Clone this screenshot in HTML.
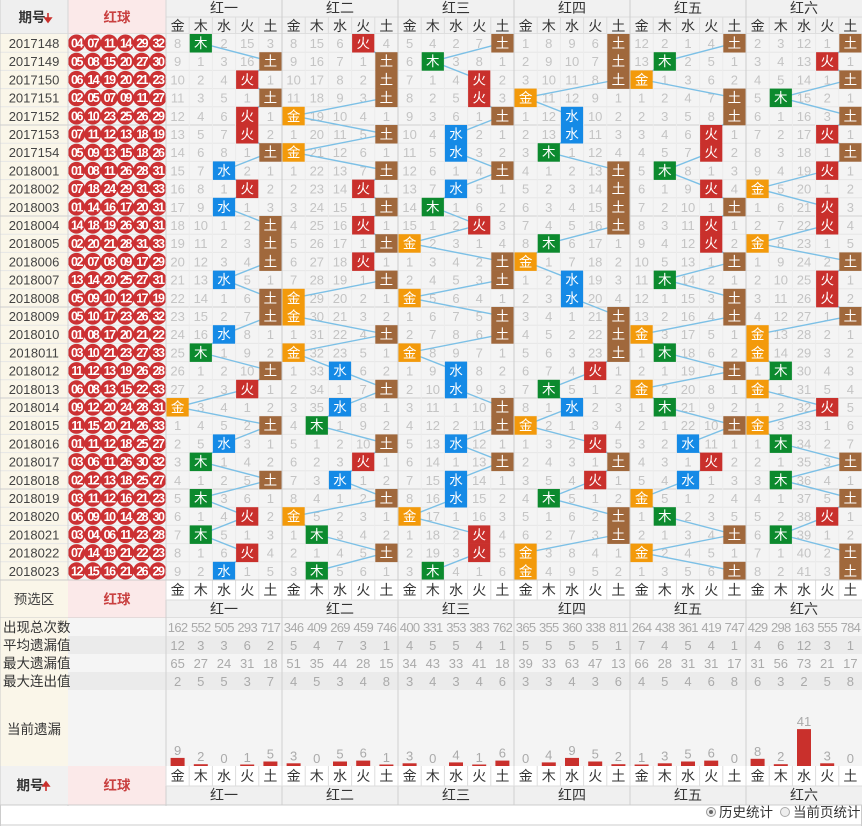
<!DOCTYPE html>
<html><head><meta charset="utf-8">
<style>
body{margin:0;padding:0;background:#fff;}
svg text{font-family:"Liberation Sans","Noto Sans CJK SC","WenQuanYi Zen Hei",sans-serif;}
</style></head>
<body>
<svg id="s" width="862" height="826" xmlns="http://www.w3.org/2000/svg" style="display:block"></svg>
<script>
const S=document.getElementById('s');
let h='';
const W5=['金','木','水','火','土'];
const COL={'金':'#f39a0b','木':'#0c8a2e','水':'#158ae6','火':'#c9302c','土':'#a0683c'};
const GN=['红一','红二','红三','红四','红五','红六'];
const periods=['2017148','2017149','2017150','2017151','2017152','2017153','2017154'];
for(let i=1;i<=23;i++)periods.push('2018'+String(i).padStart(3,'0'));
const balls=`04 07 11 14 29 32
05 08 15 20 27 30
06 14 19 20 21 23
02 05 07 09 11 27
06 10 23 25 26 29
07 11 12 13 18 19
05 09 13 15 18 26
01 08 11 26 28 31
07 18 24 29 31 33
01 14 16 17 20 31
14 18 19 26 30 31
02 20 21 28 31 33
02 07 08 09 17 29
13 14 20 25 27 31
05 09 10 12 17 19
05 10 17 23 26 32
01 08 17 20 21 22
03 10 21 23 27 33
11 12 13 19 26 28
06 08 13 15 22 33
09 12 20 24 28 31
11 15 20 21 26 33
01 11 12 18 25 27
03 06 11 26 30 32
02 12 13 18 25 27
03 11 12 16 21 23
06 09 10 14 28 30
03 04 06 11 23 28
07 14 19 21 22 23
12 15 16 21 26 29`.split('\n').map(l=>l.split(' '));
const hits=[
'木土火土火火土水火水土土土水土土水木土火金土水木土木火木火水',
'火土土土金土金土火土火土火土金金土金水土水木土火水土金木土木',
'土木火火土水水土水木火金土土金土土金水水土土水土水水金火火木',
'土土土金水水木土土土土木金水水土土土火木水金火土火木土土金金',
'土木金土土火火木火土火火土木土土金木土金木土水火水金木土金土',
'土火土木土火土火金火火金土火火土金金木金火金木土木土火木土土'
].map(s=>[...s].map(c=>W5.indexOf(c)));
const init=[[8,0,2,15,3],[8,15,6,0,4],[5,4,2,7,0],[1,8,9,6,0],[12,2,1,4,0],[2,3,12,1,0]];
const stats=[
['162 552 505 293 717','346 409 269 459 746','400 331 353 383 762','365 355 360 338 811','264 438 361 419 747','429 298 163 555 784'],
['12 3 3 6 2','5 4 7 3 1','4 5 5 4 1','5 5 5 5 1','7 4 5 4 1','4 6 12 3 1'],
['65 27 24 31 18','51 35 44 28 15','34 43 33 41 18','39 33 63 47 13','66 28 31 31 17','31 56 73 21 17'],
['2 5 5 3 7','4 5 3 4 8','3 4 3 4 6','3 3 4 3 6','4 5 4 6 8','6 3 2 5 8']];
const cur=[[9,2,0,1,5],[3,0,5,6,1],[3,0,4,1,6],[0,4,9,5,2],[1,3,5,6,0],[8,2,41,3,0]];
const GX=g=>166+g*116, CW=23.2, RT=34, RH=18.2;
const cx=(g,c)=>GX(g)+c*CW;
function R(x,y,w,hh,f,extra=''){h+=`<rect x="${x}" y="${y}" width="${w}" height="${hh}" fill="${f}" ${extra}/>`;}
function T(x,y,t,sz,f,extra=''){h+=`<text x="${x}" y="${y}" font-size="${sz}" fill="${f}" text-anchor="middle" ${extra}>${t}</text>`;}
function L(x1,y1,x2,y2,c,w=1){h+=`<line x1="${x1}" y1="${y1}" x2="${x2}" y2="${y2}" stroke="${c}" stroke-width="${w}"/>`;}
R(0,0,862,34,'#f1f1f1');
R(0,0,68,34,'#efefef');R(68,0,98,34,'#fbe9e9');
T(32,22,'期号',13.5,'#333','font-weight="bold"');
h+=`<path d="M48 13v7M45 18l3 4 3-4z" stroke="#c9302c" fill="#c9302c" stroke-width="1.6"/>`;
T(117,22,'红球',13.5,'#c94040','font-weight="bold"');
for(let g=0;g<6;g++){T(GX(g)+58,13,GN[g],14,'#333');for(let c=0;c<5;c++)T(cx(g,c)+11.6,31,W5[c],14,'#333');}
L(166,17,862,17,'#ddd');L(0,34,862,34,'#ccc');
for(let g=0;g<6;g++)for(let c=1;c<5;c++)L(cx(g,c),17,cx(g,c),34,'#ddd');
R(0,RT,68,546,'#faf6e9');R(68,RT,98,546,'#f4f4f4');R(166,RT,696,546,'#f4f4f4');
for(let r=0;r<30;r++){
 const y=RT+r*RH;
 T(34,y+14,periods[r],13,'#444');
 for(let i=0;i<6;i++){const bx=76.5+i*16.3;h+=`<circle cx="${bx}" cy="${y+9.1}" r="8.6" fill="#cc3133"/>`;T(bx,y+13.6,balls[r][i],12.5,'#fff','font-weight="bold" letter-spacing="-1.5"');}
 L(0,y+RH,862,y+RH,(r%5==4)?'#cfcfcf':'#e6e6e6');
}
for(let g=0;g<6;g++){
 L(GX(g),0,GX(g),580,'#cdcdcd');
 for(let c=1;c<5;c++)L(cx(g,c),RT,cx(g,c),580,'#ebebeb');
}
L(68,0,68,826,'#d6d6d6');L(166,0,166,826,'#d6d6d6');
let lines='',boxes='',nums='';
for(let g=0;g<6;g++){
 let om=init[g].slice();
 for(let r=0;r<30;r++){
  const y=RT+r*RH, hc=hits[g][r];
  if(r>0){for(let c=0;c<5;c++)om[c]=(c==hc)?0:om[c]+1;}
  for(let c=0;c<5;c++){
   if(c==hc){
    boxes+=`<rect x="${cx(g,c)+0.5}" y="${y}" width="${CW-1}" height="${RH+0.3}" fill="${COL[W5[c]]}"/><text x="${cx(g,c)+11.6}" y="${y+14}" font-size="13.5" fill="#fff" text-anchor="middle">${W5[c]}</text>`;
   } else nums+=`<text x="${cx(g,c)+11.6}" y="${y+14}" font-size="13" fill="#c4c4c4" text-anchor="middle">${r==0?init[g][c]:om[c]}</text>`;
  }
  if(r>0){const p=hits[g][r-1];lines+=`<line x1="${cx(g,p)+11.6}" y1="${y-RH/2}" x2="${cx(g,hc)+11.6}" y2="${y+RH/2}" stroke="#7cc0e6" stroke-width="1.4"/>`;}
 }
}
h+=nums+lines+boxes;
function wxRow(y){R(166,y,696,20,'#fff');for(let g=0;g<6;g++)for(let c=0;c<5;c++){T(cx(g,c)+11.6,y+15,W5[c],14,'#333');L(cx(g,c),y,cx(g,c),y+20,'#ddd');}}
function gnRow(y){R(166,y,696,19,'#f0f0f0');for(let g=0;g<6;g++){T(GX(g)+58,y+14,GN[g],14,'#333');L(GX(g),y,GX(g),y+19,'#d0d0d0');}}
R(0,580,68,38,'#faf6e9');R(68,580,98,38,'#fbe9e9');
T(34,604,'预选区',13.5,'#444');T(117,604,'红球',13.5,'#c94040','font-weight="bold"');
wxRow(580);gnRow(600);L(0,580,862,580,'#ccc');L(166,600,862,600,'#ddd');L(0,618,862,618,'#ccc');
const lab=['出现总次数','平均遗漏值','最大遗漏值','最大连出值'];
for(let i=0;i<4;i++){const y=618+i*18;R(0,y,68,18,'#faf6e9');R(68,y,794,18,i%2?'#ebebeb':'#f5f5f5');
 h+=`<text x="3" y="${y+14}" font-size="13.5" fill="#333">${lab[i]}</text>`;
 for(let g=0;g<6;g++){const v=stats[i][g].split(' ');for(let c=0;c<5;c++)T(cx(g,c)+11.6,y+14,v[c],13,'#aaa',v[c].length>2?'letter-spacing="-0.7"':'');L(GX(g),y,GX(g),y+18,'#d0d0d0');}}
R(0,690,68,76,'#faf6e9');R(68,690,98,76,'#f4f4f4');R(166,690,696,76,'#f4f4f4');
T(34,734,'当前遗漏',13.5,'#333');
for(let g=0;g<6;g++){L(GX(g),690,GX(g),766,'#d0d0d0');for(let c=0;c<5;c++){const v=cur[g][c],bh=v*0.9,x=cx(g,c)+11.6;
 if(v>0)R(x-7,766-Math.max(bh,1.5),14,Math.max(bh,1.5),'#c9302c');
 T(x,766-Math.max(bh,0)-3,v,13,'#aaa');}}
R(0,766,68,39,'#f1f1f1');R(68,766,98,39,'#fbe9e9');
T(30,790,'期号',13.5,'#333','font-weight="bold"');
h+=`<path d="M46 791v-7M43 786l3-4 3 4z" stroke="#c9302c" fill="#c9302c" stroke-width="1.6"/>`;
T(117,790,'红球',13.5,'#c94040','font-weight="bold"');
wxRow(766);gnRow(786);L(0,805,862,805,'#ccc');L(166,786,862,786,'#ddd');
R(0,806,862,20,'#fff');L(0,825,862,825,'#ccc');L(0.5,805,0.5,826,'#ccc');L(861.5,805,861.5,826,'#ccc');
h+=`<circle cx="711" cy="812" r="4.5" fill="#eee" stroke="#999"/><circle cx="711" cy="812" r="2" fill="#666"/>`;
h+=`<text x="719" y="817" font-size="13.5" fill="#333">历史统计</text>`;
h+=`<circle cx="785" cy="812" r="4.5" fill="#eee" stroke="#aaa"/>`;
h+=`<text x="793" y="817" font-size="13.5" fill="#333">当前页统计</text>`;
L(0,0,0,826,'#ccc');
S.innerHTML=h;
</script>
</body></html>
